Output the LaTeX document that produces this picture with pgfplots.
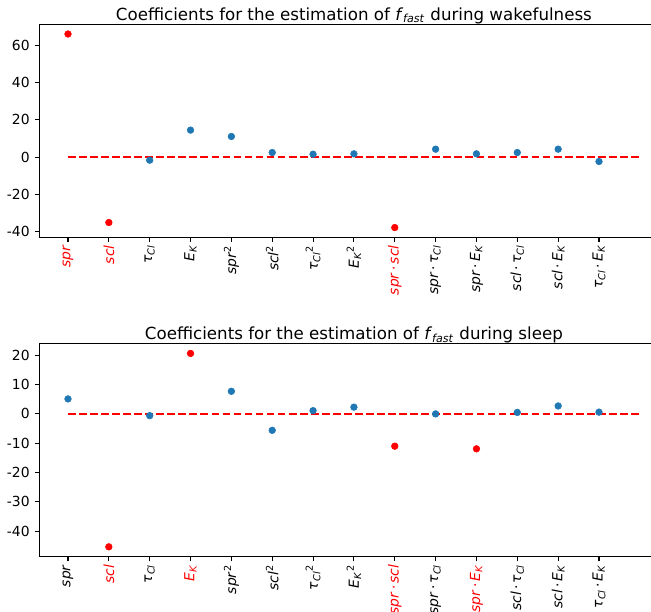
\documentclass[border=0pt]{standalone}
\usepackage{pgfplots}
\pgfplotsset{compat=1.18}
\usepackage{fontspec}
\setmainfont{DejaVu Sans}
\definecolor{mplblue}{HTML}{1F77B4}
\definecolor{mplred}{HTML}{FF0000}
\newcommand{\tcl}{\textit{τ}\textsubscript{\textit{Cl}}}
\newcommand{\EK}{\textit{E}\textsubscript{\textit{K}}}
\newcommand{\spr}{\textit{spr}}
\newcommand{\scl}{\textit{scl}}
\newcommand{\dotop}{\hspace{0.15em}·\hspace{0.15em}}
\newcommand{\R}[1]{\textcolor{mplred}{#1}}
\pgfplotsset{
  coefax/.style={
    scale only axis,
    width=452.9pt, height=153.2pt,
    xmin=-0.7, xmax=14.7,
    xtick={0,...,13},
    tick align=outside, tick pos=left,
    major tick length=3.5pt,
    tick style={black, line width=0.8pt},
    axis line style={line width=0.8pt},
    ticklabel style={font=\fontsize{10}{12}\selectfont},
    /pgf/number format/assume math mode=true,
    xticklabel style={rotate=90, anchor=east, inner sep=2.2pt},
    title style={font=\fontsize{12}{14}\selectfont, at={(0.5,1)}, anchor=base, yshift=-3pt},
    clip=false,
  }
}
\begin{document}
\begin{tikzpicture}
\path[use as bounding box] (0,0) rectangle (468.72pt,-440.64pt);
\begin{axis}[coefax,
  at={(28.37pt,-17.5pt)}, anchor=north west,
  ymin=-42.8, ymax=71.2,
  ytick={-40,-20,0,20,40,60},
  title={Coefficients for the estimation of \textit{f}\textsubscript{\textit{fast}} during wakefulness},
  xticklabels={\R{\spr},\R{\scl},\tcl,\EK,\spr\textsuperscript{2},\scl\textsuperscript{2},\tcl\textsuperscript{2},\EK\textsuperscript{2},\R{\spr\dotop\scl},\spr\dotop\tcl,\spr\dotop\EK,\scl\dotop\tcl,\scl\dotop\EK,\tcl\dotop\EK},
]
\addplot[mplred, line width=1.5pt, dash pattern=on 5.55pt off 2.4pt] coordinates {(0,0) (14,0)};
\addplot[only marks, mark=*, mark size=2.4pt, mark options={draw=mplblue, fill=mplblue}] coordinates {
(2,-1.6) (3,14.5) (4,11.1) (5,2.5) (6,1.6) (7,1.8) (9,4.3) (10,1.8) (11,2.5) (12,4.3) (13,-2.3)};
\addplot[only marks, mark=*, mark size=2.4pt, mark options={draw=mplred, fill=mplred}] coordinates {
(0,66.0) (1,-35.0) (8,-37.7)};
\end{axis}
\begin{axis}[coefax,
  at={(28.37pt,-247.5pt)}, anchor=north west,
  ymin=-48.6, ymax=23.9,
  ytick={-40,-30,-20,-10,0,10,20},
  title={Coefficients for the estimation of \textit{f}\textsubscript{\textit{fast}} during sleep},
  xticklabels={\spr,\R{\scl},\tcl,\R{\EK},\spr\textsuperscript{2},\scl\textsuperscript{2},\tcl\textsuperscript{2},\EK\textsuperscript{2},\R{\spr\dotop\scl},\spr\dotop\tcl,\R{\spr\dotop\EK},\scl\dotop\tcl,\scl\dotop\EK,\tcl\dotop\EK},
]
\addplot[mplred, line width=1.5pt, dash pattern=on 5.55pt off 2.4pt] coordinates {(0,0) (14,0)};
\addplot[only marks, mark=*, mark size=2.4pt, mark options={draw=mplblue, fill=mplblue}] coordinates {
(0,5.1) (2,-0.6) (4,7.7) (5,-5.6) (6,1.1) (7,2.3) (9,0.0) (11,0.5) (12,2.7) (13,0.6)};
\addplot[only marks, mark=*, mark size=2.4pt, mark options={draw=mplred, fill=mplred}] coordinates {
(1,-45.3) (3,20.6) (8,-11.0) (10,-11.9)};
\end{axis}
\end{tikzpicture}
\end{document}
